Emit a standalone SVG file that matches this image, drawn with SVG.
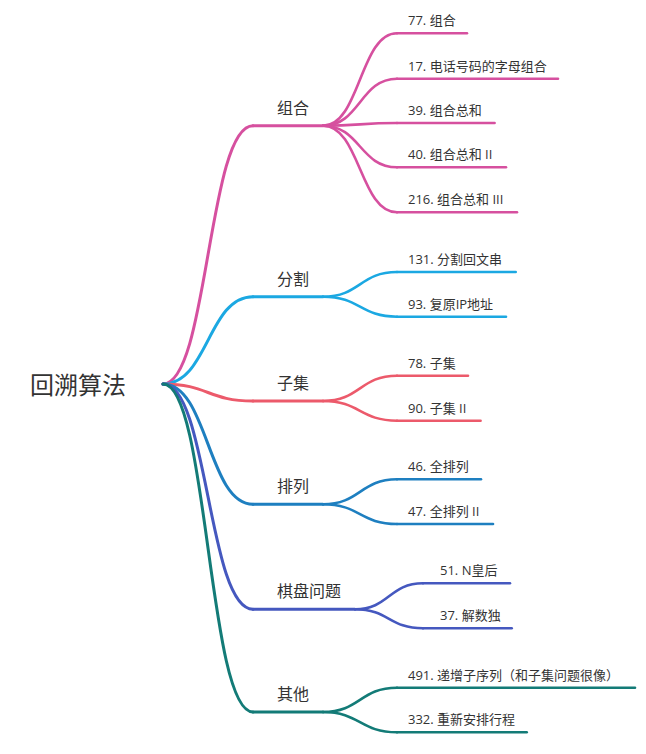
<svg xmlns="http://www.w3.org/2000/svg" width="646" height="754" viewBox="0 0 646 754">
<style>
  text { font-family: "Open Sans", "Noto Sans CJK SC", sans-serif; fill: #333; }
  .root { font-size: 24px; }
  .br { font-size: 16px; }
  .lf { font-size: 13px; }
  path, line { fill: none; stroke-linecap: round; }
  .m { stroke-width: 3; }
  .c { stroke-width: 2.6; }
  .pink { stroke: #d6509f; }
  .sky { stroke: #1ba8e2; }
  .red { stroke: #ec5a6b; }
  .blue { stroke: #1e7fc0; }
  .ind { stroke: #4558bf; }
  .teal { stroke: #137b77; }
</style>
<rect width="646" height="754" fill="#fff"/>
<g id="connectors">
  <path class="m pink" d="M163,384 C208,384 208,125.7 253,125.7"/>
  <path class="m sky" d="M163,384 C208,384 208,296.7 253,296.7"/>
  <path class="m red" d="M163,384 C208,384 208,401 253,401"/>
  <path class="m blue" d="M163,384 C208,384 208,504.3 253,504.3"/>
  <path class="m ind" d="M163,384 C208,384 208,609.3 253,609.3"/>
  <path class="m teal" d="M163,384 C208,384 208,712 253,712"/>
  <path class="c pink" d="M323,125.7 C360,125.7 360,33.3 397,33.3"/>
  <path class="c pink" d="M323,125.7 C360,125.7 360,78.7 397,78.7"/>
  <path class="c pink" d="M323,125.7 C360,125.7 360,123 397,123"/>
  <path class="c pink" d="M323,125.7 C360,125.7 360,167.3 397,167.3"/>
  <path class="c pink" d="M323,125.7 C360,125.7 360,212.3 397,212.3"/>
  <path class="c sky" d="M323,296.7 C360,296.7 360,272 397,272"/>
  <path class="c sky" d="M323,296.7 C360,296.7 360,316.7 397,316.7"/>
  <path class="c red" d="M323,401 C360,401 360,375.7 397,375.7"/>
  <path class="c red" d="M323,401 C360,401 360,420.7 397,420.7"/>
  <path class="c blue" d="M323,504.3 C360,504.3 360,479.3 397,479.3"/>
  <path class="c blue" d="M323,504.3 C360,504.3 360,524 397,524"/>
  <path class="c ind" d="M355,609.3 C389,609.3 389,583.3 423,583.3"/>
  <path class="c ind" d="M355,609.3 C389,609.3 389,628.3 423,628.3"/>
  <path class="c teal" d="M323,712 C360,712 360,687.7 397,687.7"/>
  <path class="c teal" d="M323,712 C360,712 360,732.3 397,732.3"/>
</g>
<g id="root"><text class="root" x="30" y="393.5">回溯算法</text></g>
<g id="n-zuhe"><line class="m pink" x1="253" y1="125.7" x2="323" y2="125.7"/><text class="br" x="277" y="113.7">组合</text></g>
<g id="n-77"><line class="c pink" x1="397" y1="33.3" x2="467" y2="33.3"/><text class="lf" x="408" y="25.3">77. 组合</text></g>
<g id="n-17"><line class="c pink" x1="397" y1="78.7" x2="558" y2="78.7"/><text class="lf" x="408" y="70.7">17. 电话号码的字母组合</text></g>
<g id="n-39"><line class="c pink" x1="397" y1="123" x2="494.6" y2="123"/><text class="lf" x="408" y="115">39. 组合总和</text></g>
<g id="n-40"><line class="c pink" x1="397" y1="167.3" x2="506" y2="167.3"/><text class="lf" x="408" y="159.3">40. 组合总和 II</text></g>
<g id="n-216"><line class="c pink" x1="397" y1="212.3" x2="517" y2="212.3"/><text class="lf" x="408" y="204.3">216. 组合总和 III</text></g>
<g id="n-fenge"><line class="m sky" x1="253" y1="296.7" x2="323" y2="296.7"/><text class="br" x="277" y="284.7">分割</text></g>
<g id="n-131"><line class="c sky" x1="397" y1="272" x2="515.7" y2="272"/><text class="lf" x="408" y="264">131. 分割回文串</text></g>
<g id="n-93"><line class="c sky" x1="397" y1="316.7" x2="506" y2="316.7"/><text class="lf" x="408" y="308.7">93. 复原IP地址</text></g>
<g id="n-ziji"><line class="m red" x1="253" y1="401" x2="323" y2="401"/><text class="br" x="277" y="389">子集</text></g>
<g id="n-78"><line class="c red" x1="397" y1="375.7" x2="468" y2="375.7"/><text class="lf" x="408" y="367.7">78. 子集</text></g>
<g id="n-90"><line class="c red" x1="397" y1="420.7" x2="480.6" y2="420.7"/><text class="lf" x="408" y="412.7">90. 子集 II</text></g>
<g id="n-pailie"><line class="m blue" x1="253" y1="504.3" x2="323" y2="504.3"/><text class="br" x="277" y="492.3">排列</text></g>
<g id="n-46"><line class="c blue" x1="397" y1="479.3" x2="481" y2="479.3"/><text class="lf" x="408" y="471.3">46. 全排列</text></g>
<g id="n-47"><line class="c blue" x1="397" y1="524" x2="493" y2="524"/><text class="lf" x="408" y="516">47. 全排列 II</text></g>
<g id="n-qipan"><line class="m ind" x1="253" y1="609.3" x2="355" y2="609.3"/><text class="br" x="277" y="597.3">棋盘问题</text></g>
<g id="n-51"><line class="c ind" x1="423" y1="583.3" x2="510" y2="583.3"/><text class="lf" x="440" y="575.3">51. N皇后</text></g>
<g id="n-37"><line class="c ind" x1="423" y1="628.3" x2="511.7" y2="628.3"/><text class="lf" x="440" y="620.3">37. 解数独</text></g>
<g id="n-qita"><line class="m teal" x1="253" y1="712" x2="323" y2="712"/><text class="br" x="277" y="700">其他</text></g>
<g id="n-491"><line class="c teal" x1="397" y1="687.7" x2="635" y2="687.7"/><text class="lf" x="408" y="679.7">491. 递增子序列（和子集问题很像）</text></g>
<g id="n-332"><line class="c teal" x1="397" y1="732.3" x2="526.7" y2="732.3"/><text class="lf" x="408" y="724.3">332. 重新安排行程</text></g>
</svg>
